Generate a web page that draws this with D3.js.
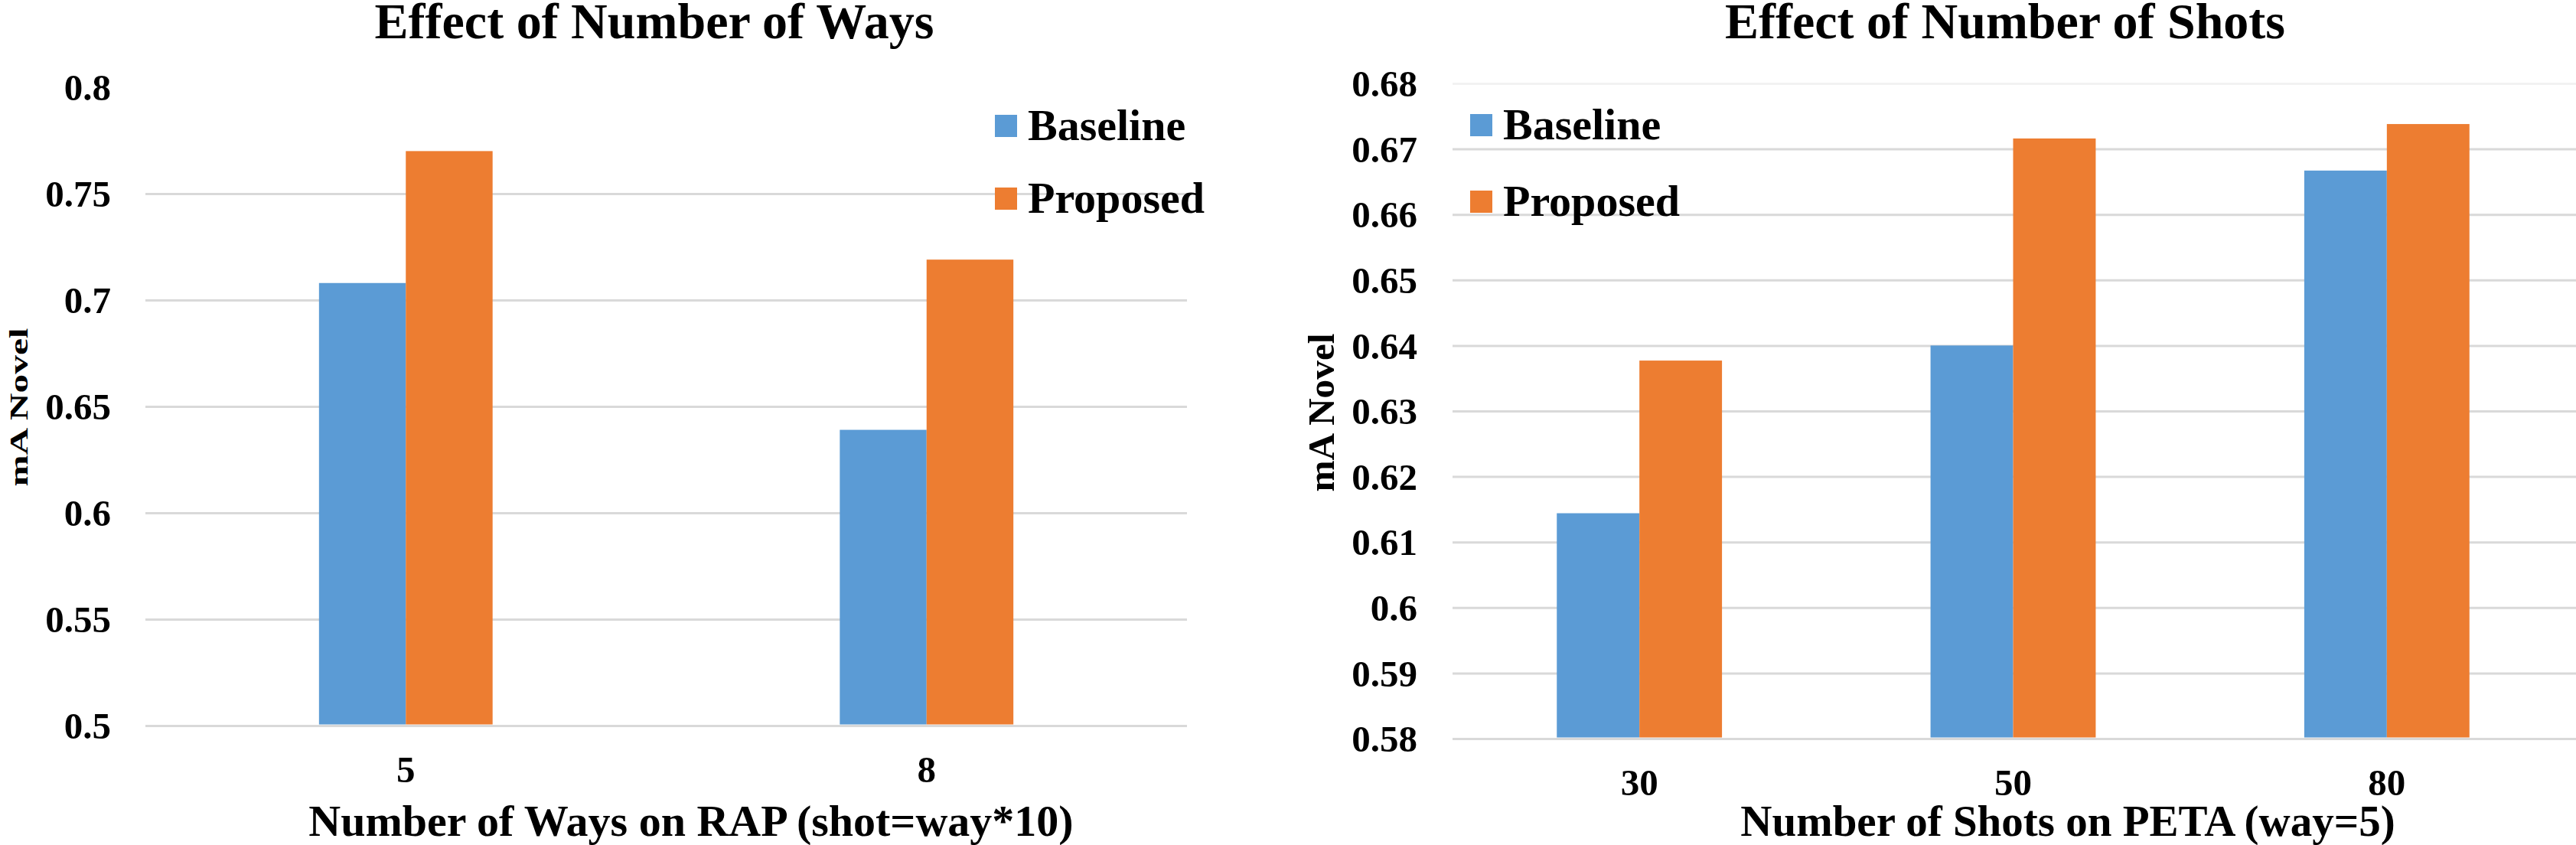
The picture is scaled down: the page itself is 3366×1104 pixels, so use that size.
<!DOCTYPE html>
<html>
<head>
<meta charset="utf-8">
<script src="https://cdnjs.cloudflare.com/ajax/libs/d3/7.8.5/d3.min.js"></script>
<style>
  body { margin: 0; background: #fff; }
  svg text { font-family: "Liberation Serif", "Times New Roman", Times, serif !important; font-weight: bold; fill: #000; }
</style>
</head>
<body>
<div id="chart"></div>
<script>
// data
var seriesNames = ["Baseline", "Proposed"];

var waysCategories = ["5", "8"];
var waysBaseline = [0.708, 0.639];
var waysProposed = [0.770, 0.719];
var waysTicks = [0.5, 0.55, 0.6, 0.65, 0.7, 0.75, 0.8];
var waysTickLabels = ["0.5", "0.55", "0.6", "0.65", "0.7", "0.75", "0.8"];

var shotsCategories = ["30", "50", "80"];
var shotsBaseline = [0.6144, 0.640, 0.6667];
var shotsProposed = [0.6377, 0.6716, 0.6738];
var shotsTicks = [0.58, 0.59, 0.6, 0.61, 0.62, 0.63, 0.64, 0.65, 0.66, 0.67, 0.68];
var shotsTickLabels = ["0.58", "0.59", "0.6", "0.61", "0.62", "0.63", "0.64", "0.65", "0.66", "0.67", "0.68"];

var color = d3.scaleOrdinal().domain(seriesNames).range(["#5B9BD5", "#ED7D31"]);

var svg = d3.select("#chart")
    .append("svg")
    .attr("width", 3366)
    .attr("height", 1104);

function drawChart(cfg) {
    var g = svg.append("g");

    var y = d3.scaleLinear()
        .domain([cfg.ticks[0], cfg.ticks[cfg.ticks.length - 1]])
        .range([cfg.bottom, cfg.top]);

    var x0 = d3.scaleBand()
        .domain(cfg.categories)
        .range([cfg.left, cfg.right])
        .paddingInner(cfg.pad)
        .paddingOuter(cfg.pad / 2);

    var x1 = d3.scaleBand()
        .domain(seriesNames)
        .range([0, x0.bandwidth()]);

    // gridlines
    g.append("g")
        .attr("transform", "translate(" + cfg.left + ",0)")
        .call(d3.axisLeft(y).tickValues(cfg.ticks).tickSize(-(cfg.gridRight - cfg.left)).tickFormat(""))
        .call(function(a) {
            a.select(".domain").remove();
            a.selectAll("line")
                .attr("stroke", function(d, i) { return i === cfg.ticks.length - 1 ? cfg.topGrid : "#d9d9d9"; })
                .attr("stroke-width", 3);
        });

    // y tick labels
    g.append("g")
        .attr("transform", "translate(" + cfg.labelRight + ",0)")
        .call(d3.axisLeft(y).tickValues(cfg.ticks).tickSize(0).tickPadding(0)
            .tickFormat(function(d, i) { return cfg.tickLabels[i]; }))
        .attr("font-family", null)
        .attr("font-size", null)
        .call(function(a) {
            a.select(".domain").remove();
            a.selectAll("text")
                .attr("dy", "0.34em")
                .style("font-size", "49px");
        });

    // bars
    var rows = cfg.categories.map(function(c, i) {
        return { cat: c, values: [cfg.baseline[i], cfg.proposed[i]] };
    });

    var groups = g.selectAll("g.cat")
        .data(rows)
        .enter()
        .append("g")
        .attr("class", "cat")
        .attr("transform", function(d) { return "translate(" + x0(d.cat) + ",0)"; });

    groups.selectAll("rect")
        .data(function(d) { return d.values.map(function(v, j) { return { key: seriesNames[j], value: v }; }); })
        .enter()
        .append("rect")
        .attr("x", function(d) { return x1(d.key); })
        .attr("y", function(d) { return y(d.value); })
        .attr("width", x1.bandwidth())
        .attr("height", function(d) { return cfg.bottom - 1.5 - y(d.value); })
        .attr("fill", function(d) { return color(d.key); });

    // x tick labels
    g.append("g")
        .attr("transform", "translate(0," + (cfg.bottom + 74) + ")")
        .call(d3.axisBottom(x0).tickSize(0).tickPadding(0))
        .attr("font-family", null)
        .attr("font-size", null)
        .call(function(a) {
            a.select(".domain").remove();
            a.selectAll("text")
                .attr("y", 0)
                .attr("dy", 0)
                .style("font-size", "49px");
        });

    // titles
    g.append("text")
        .attr("x", cfg.titleX)
        .attr("y", 50)
        .attr("text-anchor", "middle")
        .style("font-size", "66px")
        .text(cfg.title);

    g.append("text")
        .attr("x", cfg.xTitleX)
        .attr("y", 1092)
        .attr("text-anchor", "middle")
        .style("font-size", cfg.xTitleSize + "px")
        .text(cfg.xTitle);

    g.append("text")
        .attr("transform", "translate(" + cfg.yTitleX + "," + cfg.yTitleY + ") rotate(-90)")
        .attr("text-anchor", "middle")
        .attr("textLength", 207)
        .attr("lengthAdjust", "spacingAndGlyphs")
        .style("font-size", cfg.yTitleSize + "px")
        .text("mA Novel");

    // legend
    var legend = g.selectAll("g.legend")
        .data(seriesNames)
        .enter()
        .append("g")
        .attr("class", "legend")
        .attr("transform", function(d, i) { return "translate(" + cfg.legendX + "," + (cfg.legendY + i * cfg.legendStep) + ")"; });

    legend.append("rect")
        .attr("x", 0)
        .attr("y", -33)
        .attr("width", 29)
        .attr("height", 29)
        .attr("fill", function(d) { return color(d); });

    legend.append("text")
        .attr("x", 43)
        .attr("y", 0)
        .style("font-size", "58px")
        .text(function(d) { return d; });
}

drawChart({
    categories: waysCategories, baseline: waysBaseline, proposed: waysProposed,
    ticks: waysTicks, tickLabels: waysTickLabels,
    left: 190, right: 1551, gridRight: 1551, top: 114, bottom: 948, pad: 2 / 3,
    labelRight: 145, topGrid: "#ffffff",
    title: "Effect of Number of Ways", titleX: 855,
    xTitle: "Number of Ways on RAP (shot=way*10)", xTitleX: 903, xTitleSize: 58,
    yTitleX: 36, yTitleY: 532, yTitleSize: 34,
    legendX: 1300, legendY: 183, legendStep: 95
});

drawChart({
    categories: shotsCategories, baseline: shotsBaseline, proposed: shotsProposed,
    ticks: shotsTicks, tickLabels: shotsTickLabels,
    left: 1898, right: 3363, gridRight: 3366, top: 109, bottom: 965, pad: 0.558,
    labelRight: 1852, topGrid: "#f2f2f2",
    title: "Effect of Number of Shots", titleX: 2620,
    xTitle: "Number of Shots on PETA (way=5)", xTitleX: 2702, xTitleSize: 57,
    yTitleX: 1743, yTitleY: 539, yTitleSize: 49,
    legendX: 1921, legendY: 182, legendStep: 100
});
</script>
</body>
</html>
